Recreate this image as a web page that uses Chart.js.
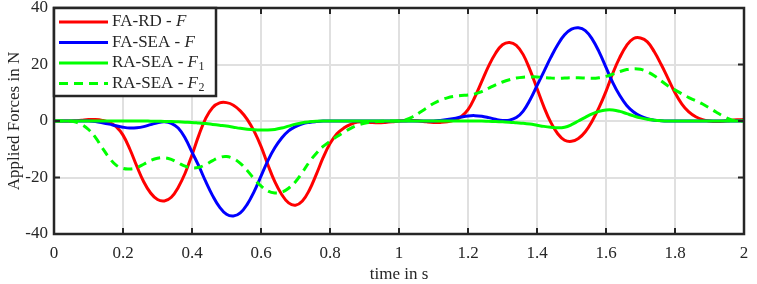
<!DOCTYPE html>
<html>
<head>
<meta charset="utf-8">
<script src="https://cdn.jsdelivr.net/npm/chart.js@4.4.1/dist/chart.umd.min.js"></script>
<style>
  html, body { margin: 0; padding: 0; background: #fff; }
  #wrap { width: 757px; height: 284px; }
</style>
</head>
<body>
<div id="wrap"><canvas id="chart-forces"></canvas></div>
<script>
// time samples in s
var times = [
  0.00, 0.02, 0.04, 0.06, 0.08, 0.10, 0.12, 0.14, 0.16, 0.18,
  0.20, 0.22, 0.24, 0.26, 0.28, 0.30, 0.32, 0.34, 0.36, 0.38,
  0.40, 0.42, 0.44, 0.46, 0.48, 0.50, 0.52, 0.54, 0.56, 0.58,
  0.60, 0.62, 0.64, 0.66, 0.68, 0.70, 0.72, 0.74, 0.76, 0.78,
  0.80, 0.82, 0.84, 0.86, 0.88, 0.90, 0.92, 0.94, 0.96, 0.98,
  1.00, 1.02, 1.04, 1.06, 1.08, 1.10, 1.12, 1.14, 1.16, 1.18,
  1.20, 1.22, 1.24, 1.26, 1.28, 1.30, 1.32, 1.34, 1.36, 1.38,
  1.40, 1.42, 1.44, 1.46, 1.48, 1.50, 1.52, 1.54, 1.56, 1.58,
  1.60, 1.62, 1.64, 1.66, 1.68, 1.70, 1.72, 1.74, 1.76, 1.78,
  1.80, 1.82, 1.84, 1.86, 1.88, 1.90, 1.92, 1.94, 1.96, 1.98,
  2.00
];

// FA-RD - F
var faRd = [
  0, 0, 0, 0.1, 0.3, 0.5, 0.5, 0.2, -0.5, -2,
  -5, -10, -16, -21.5, -25.5, -27.8, -28.3, -27, -23.5, -18.5,
  -12, -5, 1, 4.8, 6.4, 6.5, 5.6, 3.6, 0.6, -3.6,
  -9, -15.5, -21.5, -26, -29, -29.8, -28.3, -24.5, -19, -13,
  -8, -4.5, -2.5, -1.2, -0.4, -0.3, -0.5, -0.6, -0.5, -0.3,
  0, 0.1, 0.2, 0, -0.3, -0.5, -0.5, -0.3, 0.3, 1.5,
  4, 8.5, 14, 19.5, 24, 27, 27.8, 26.8, 23.5, 18,
  11.5, 5, -0.5, -4.5, -6.8, -7.2, -6.2, -3.8, 0, 4.8,
  10.5, 17, 22.5, 26.8, 29.2, 29.4, 28, 24.5, 20, 15,
  10, 6, 3.2, 1.5, 0.5, 0, -0.2, -0.1, 0.2, 0.4,
  0.5
];

// FA-SEA - F
var faSea = [
  0, 0, 0, 0, 0, 0, -0.2, -0.6, -1.1, -1.7,
  -2.2, -2.5, -2.4, -2, -1.3, -0.6, -0.3, -0.8, -2.5, -6,
  -11, -16, -21.5, -26.5, -30.5, -33, -33.6, -32.5, -29.5, -25,
  -19.5, -14, -9.5, -6, -3.5, -2, -1, -0.5, -0.2, 0,
  0, 0, 0, 0, 0, 0, 0, 0, 0, 0,
  0, 0, 0, 0, 0, 0, 0.2, 0.5, 0.9, 1.4,
  1.8, 1.9, 1.7, 1.2, 0.6, 0.2, 0.3, 1.2, 3.5, 7.5,
  12.5, 17.5, 22.5, 27, 30.5, 32.5, 33, 32, 29, 24.5,
  19, 13.5, 9, 5.5, 3.2, 1.7, 0.8, 0.3, 0.1, 0,
  0, 0, 0, 0, 0, 0, 0, 0, 0, 0,
  0
];

// RA-SEA - F1
var raSea1 = [
  0, 0, 0, 0, 0, 0, 0, 0, 0, 0,
  0, 0, 0, 0, -0.05, -0.1, -0.15, -0.2, -0.3, -0.4,
  -0.5, -0.7, -0.9, -1.2, -1.5, -1.8, -2.2, -2.6, -2.9, -3.1,
  -3.2, -3.2, -3, -2.5, -1.8, -1.1, -0.6, -0.3, -0.1, 0,
  0, 0, 0, 0, 0, 0, 0, 0, 0, 0,
  0, 0, 0, 0, 0, 0, 0, 0, 0, 0,
  0, 0, 0, -0.1, -0.2, -0.3, -0.4, -0.6, -0.8, -1.1,
  -1.5, -1.9, -2.2, -2.4, -2.2, -1.3, 0, 1.3, 2.5, 3.4,
  3.9, 3.9, 3.4, 2.6, 1.8, 1.1, 0.6, 0.3, 0.1, 0,
  0, 0, 0, 0, 0, 0, 0, 0, 0, 0,
  0
];

// RA-SEA - F2
var raSea2 = [
  0, 0, 0, -0.3, -1.2, -3, -5.8, -9.5, -13, -15.6,
  -16.8, -17, -16.5, -15.3, -14, -13.2, -13, -13.6, -14.8, -16,
  -16.6, -16.4, -15.4, -14, -12.9, -12.6, -13.3, -15, -17.5, -20.5,
  -23, -24.8, -25.5, -25.2, -23.8, -21.5, -18.2, -14.5, -11.5, -9,
  -7.2, -5.5, -4, -2.6, -1.5, -0.8, -0.4, -0.2, -0.1, 0,
  0, 0.5, 1.5, 3, 4.6, 6.2, 7.4, 8.2, 8.7, 9,
  9.2, 9.6, 10.4, 11.6, 12.8, 13.8, 14.6, 15.2, 15.5, 15.6,
  15.6, 15.4, 15.2, 15.1, 15.2, 15.3, 15.3, 15.2, 15.1, 15.3,
  15.8, 16.6, 17.5, 18.2, 18.5, 18.3, 17.4, 16, 14.2, 12.4,
  11, 9.6, 8.3, 7.2, 6, 4.6, 3.1, 1.7, 0.6, 0.1,
  0
];

var xTicks = [0, 0.2, 0.4, 0.6, 0.8, 1, 1.2, 1.4, 1.6, 1.8, 2];
var yTicks = [-40, -20, 0, 20, 40];

function pts(values) {
  return values.map(function (v, i) { return { x: times[i], y: v }; });
}

var FONT = "'Liberation Serif', 'DejaVu Serif', serif";
var INK = "#262626";

var legendItems = [
  { name: "FA-RD - ", sym: "F", sub: "", color: "#ff0000", dash: [] },
  { name: "FA-SEA - ", sym: "F", sub: "", color: "#0000ff", dash: [] },
  { name: "RA-SEA - ", sym: "F", sub: "1", color: "#00ff00", dash: [] },
  { name: "RA-SEA - ", sym: "F", sub: "2", color: "#00ff00", dash: [9, 6] }
];

// axes box with inward ticks, and the legend box
var matlabBox = {
  id: "matlabBox",
  afterDraw: function (chart) {
    var ctx = chart.ctx;
    var a = chart.chartArea;
    var xs = chart.scales.x, ys = chart.scales.y;
    ctx.save();
    ctx.strokeStyle = INK;
    ctx.lineWidth = 2;
    ctx.beginPath();
    xTicks.forEach(function (t) {
      var px = xs.getPixelForValue(t);
      ctx.moveTo(px, a.bottom); ctx.lineTo(px, a.bottom - 6);
      ctx.moveTo(px, a.top); ctx.lineTo(px, a.top + 6);
    });
    yTicks.forEach(function (t) {
      var py = ys.getPixelForValue(t);
      ctx.moveTo(a.left, py); ctx.lineTo(a.left + 6, py);
      ctx.moveTo(a.right, py); ctx.lineTo(a.right - 6, py);
    });
    ctx.stroke();
    ctx.lineWidth = 2.5;
    ctx.strokeRect(a.left, a.top, a.right - a.left, a.bottom - a.top);

    // legend
    var lx = a.left, ly = a.top, lw = 162, lh = 88;
    ctx.fillStyle = "#fff";
    ctx.fillRect(lx, ly, lw, lh);
    ctx.strokeRect(lx, ly, lw, lh);
    legendItems.forEach(function (it, i) {
      var cy = ly + 14 + i * 20.5;
      ctx.strokeStyle = it.color;
      ctx.lineWidth = 3;
      ctx.setLineDash(it.dash);
      ctx.beginPath();
      ctx.moveTo(lx + 5, cy); ctx.lineTo(lx + 54, cy);
      ctx.stroke();
      ctx.setLineDash([]);
      ctx.fillStyle = INK;
      ctx.textBaseline = "middle";
      ctx.textAlign = "left";
      ctx.font = "17px " + FONT;
      var tx = lx + 58;
      ctx.fillText(it.name, tx, cy);
      tx += ctx.measureText(it.name).width;
      ctx.font = "italic 17px " + FONT;
      ctx.fillText(it.sym, tx, cy);
      tx += ctx.measureText(it.sym).width;
      if (it.sub) {
        ctx.font = "12px " + FONT;
        ctx.fillText(it.sub, tx + 0.5, cy + 4);
      }
    });
    ctx.restore();
  }
};

new Chart(document.getElementById("chart-forces"), {
  type: "line",
  data: {
    datasets: [
      { data: pts(faRd), borderColor: "#ff0000", order: 4 },
      { data: pts(faSea), borderColor: "#0000ff", order: 3 },
      { data: pts(raSea1), borderColor: "#00ff00", order: 2 },
      { data: pts(raSea2), borderColor: "#00ff00", borderDash: [9, 6], order: 1 }
    ]
  },
  options: {
    responsive: true,
    maintainAspectRatio: false,
    animation: false,
    layout: { padding: { top: 8, right: 13, left: 0, bottom: 0 } },
    elements: {
      point: { radius: 0 },
      line: { borderWidth: 3, tension: 0.4, fill: false }
    },
    plugins: {
      legend: { display: false },
      tooltip: { enabled: false }
    },
    scales: {
      x: {
        type: "linear",
        min: 0,
        max: 2,
        afterBuildTicks: function (scale) {
          scale.ticks = xTicks.map(function (v) { return { value: v }; });
        },
        afterFit: function (scale) {
          scale.height = 50;
          scale.paddingLeft = 0;
          scale.paddingRight = 0;
        },
        grid: { color: "#e0e0e0", lineWidth: 2, drawTicks: false },
        border: { display: false },
        ticks: {
          color: INK,
          padding: 9,
          maxRotation: 0,
          font: { family: FONT, size: 17 },
          callback: function (v) { return String(v); }
        },
        title: {
          display: true,
          text: "time in s",
          color: INK,
          padding: { top: 0, bottom: -1 },
          font: { family: FONT, size: 17 }
        }
      },
      y: {
        min: -40,
        max: 40,
        afterBuildTicks: function (scale) {
          scale.ticks = yTicks.map(function (v) { return { value: v }; });
        },
        afterFit: function (scale) {
          scale.width = 54;
          scale.paddingTop = 0;
          scale.paddingBottom = 0;
        },
        grid: { color: "#e0e0e0", lineWidth: 2, drawTicks: false },
        border: { display: false },
        ticks: {
          color: INK,
          padding: 6,
          font: { family: FONT, size: 17 }
        },
        title: {
          display: true,
          text: "Applied Forces in N",
          color: INK,
          padding: { bottom: 0 },
          font: { family: FONT, size: 17 }
        }
      }
    }
  },
  plugins: [matlabBox]
});
</script>
</body>
</html>
